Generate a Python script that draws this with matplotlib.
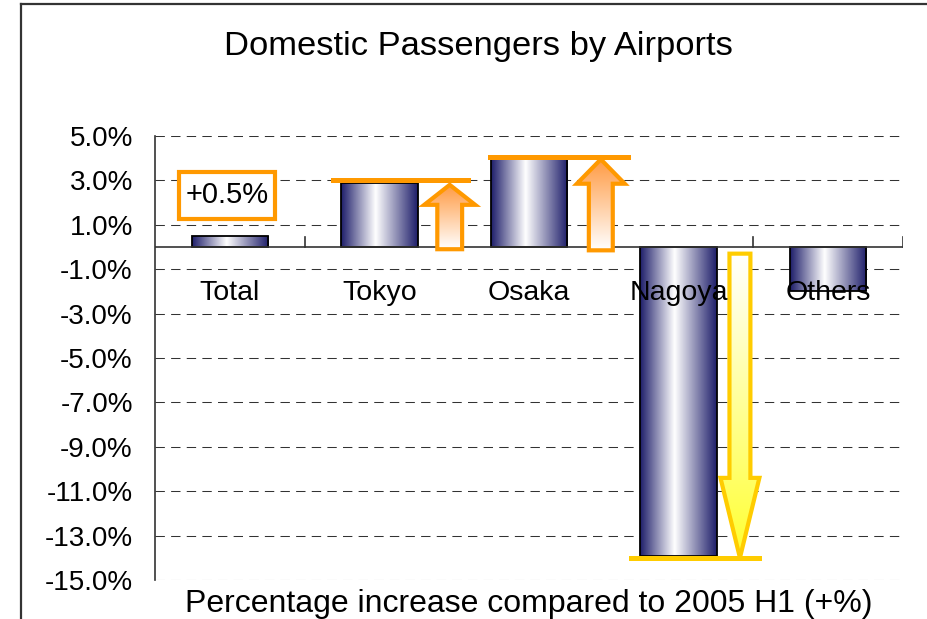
import numpy as np
import matplotlib
matplotlib.use("Agg")
import matplotlib.pyplot as plt
from matplotlib.colors import LinearSegmentedColormap
from matplotlib.patches import Polygon, Rectangle
from matplotlib.lines import Line2D

# ==================================
# Data
# ==================================
categories = ["Total", "Tokyo", "Osaka", "Nagoya", "Others"]
values = [0.5, 2.9, 4.0, -13.9, -2.0]
y_ticks = [5, 3, 1, -1, -3, -5, -7, -9, -11, -13, -15]

title = "Domestic Passengers by Airports"
x_label = "Percentage increase compared to 2005 H1 (+%)"

plt.rcParams["font.family"] = ["Liberation Sans", "DejaVu Sans"]

ORANGE = "#FF9900"
YELLOW = "#FFCC00"

bar_cmap = LinearSegmentedColormap.from_list(
    "bar", [(0, "#1e1e6a"), (0.45, "#ffffff"), (1, "#1e1e6a")]
)
orange_cmap = LinearSegmentedColormap.from_list("org", ["#ffffff", "#FF9940"])
yellow_cmap = LinearSegmentedColormap.from_list("yel", ["#FFFF30", "#ffffff"])

# ==================================
# Figure
# ==================================
fig = plt.figure(figsize=(9.28, 6.19), dpi=100)
ax = fig.add_axes([155 / 928, 1 - 580 / 619, 748 / 928, 444 / 619])

x = np.arange(len(categories))
width = 0.51
bars = ax.bar(x, values, width=width, color="none",
              edgecolor="black", linewidth=1.3, zorder=3)

grad = np.linspace(0, 1, 256).reshape(1, -1)
for b in bars:
    x0, y0 = b.get_x(), b.get_y()
    im = ax.imshow(grad, cmap=bar_cmap, aspect="auto",
                   extent=(x0, x0 + b.get_width(), y0, y0 + b.get_height()),
                   zorder=2)
    im.set_clip_path(b)


def arrow(xc, y0, y1, sw, hw, hl, cmap, edge):
    d = 1 if y1 > y0 else -1
    yh = y1 - d * hl
    pts = [(xc - sw, y0), (xc + sw, y0), (xc + sw, yh), (xc + hw, yh),
           (xc, y1), (xc - hw, yh), (xc - sw, yh)]
    poly = Polygon(pts, closed=True, facecolor="none", edgecolor=edge,
                   linewidth=3, joinstyle="miter", zorder=5)
    ax.add_patch(poly)
    g = np.linspace(0, 1, 256).reshape(-1, 1)
    im = ax.imshow(g, cmap=cmap, aspect="auto", origin="lower",
                   extent=(xc - hw, xc + hw, min(y0, y1), max(y0, y1)),
                   zorder=4)
    im.set_clip_path(poly)


# Tokyo / Osaka up arrows, Nagoya down arrow
arrow(1.47, -0.1, values[1] - 0.1, 0.083, 0.17, 0.9, orange_cmap, ORANGE)
arrow(2.48, -0.15, values[2] - 0.05, 0.08, 0.16, 1.1, orange_cmap, ORANGE)
arrow(3.41, -0.3, values[3] - 0.1, 0.07, 0.13, 3.6, yellow_cmap, YELLOW)

ax.plot([0.69, 1.59], [values[1] + 0.1, values[1] + 0.1], color=ORANGE, lw=3.6, zorder=6)
ax.plot([1.74, 2.66], [values[2] + 0.05, values[2] + 0.05], color=ORANGE, lw=3.6, zorder=6)
ax.plot([2.68, 3.54], [values[3] - 0.1, values[3] - 0.1], color=YELLOW, lw=3.6, zorder=6)

# +0.5% label box
ax.add_patch(Rectangle((-0.34, 1.24), 0.64, 2.16, facecolor="white",
                       edgecolor=ORANGE, linewidth=3, zorder=6))
ax.text(-0.02, 2.32, f"+{values[0]:.1f}%", ha="center", va="center",
        fontsize=21, zorder=7)

# category labels next to the zero axis
for i, c in enumerate(categories):
    ax.text(i, -2.05, c, ha="center", va="center", fontsize=20.5, zorder=8)

# zero axis line with category tick marks
ax.axhline(0, color="#333333", lw=1.2, zorder=3)
for t in np.arange(0.5, len(categories), 1.0):
    ax.plot([t, t], [0, 0.45], color="#333333", lw=1.2, zorder=3)

# ==================================
# Axes styling
# ==================================
ax.set_xlim(-0.5, len(categories) - 0.5)
ax.set_ylim(-15, 5)
ax.set_yticks(y_ticks)
ax.set_yticklabels([f"{v:.1f}%" for v in y_ticks], fontsize=20)
ax.tick_params(axis="y", length=0, pad=16)
ax.set_xticks([])
ax.yaxis.grid(True, color="#333333", lw=0.75, linestyle=(0, (9, 6)), zorder=1)
ax.set_axisbelow(True)
for s in ["top", "right", "bottom"]:
    ax.spines[s].set_visible(False)
ax.spines["left"].set_linewidth(1.2)
ax.spines["left"].set_color("#333333")

fig.text(478 / 928, 1 - 47 / 619, title, ha="center", va="center", fontsize=24.8)
fig.text(529 / 928, 1 - 604 / 619, x_label, ha="center", va="center", fontsize=23)

# outer chart border
fig.add_artist(Line2D([21 / 928, 21 / 928], [0, 1 - 4 / 619],
                      transform=fig.transFigure, color="#333333", lw=1.6))
fig.add_artist(Line2D([21 / 928, 1], [1 - 4 / 619, 1 - 4 / 619],
                      transform=fig.transFigure, color="#333333", lw=1.6))

plt.savefig("out.png", dpi=100)
plt.close()
